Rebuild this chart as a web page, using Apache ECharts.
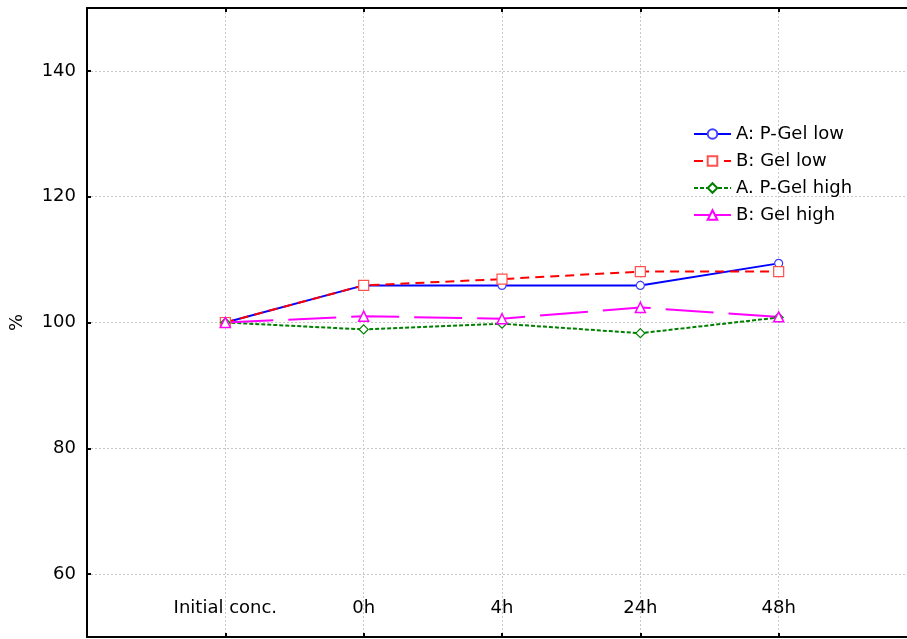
<!DOCTYPE html>
<html>
<head>
<meta charset="utf-8">
<script src="https://cdn.jsdelivr.net/npm/echarts@6/dist/echarts.min.js"></script>
<style>html,body{margin:0;padding:0;background:#fff}#c{width:907px;height:639px}</style>
</head>
<body>
<div id="c"></div>
<script>
var categories = ['Initial conc.', '0h', '4h', '24h', '48h'];
var yTicks = [60, 80, 100, 120, 140];
var seriesNames = ['A: P-Gel low', 'B: Gel low', 'A. P-Gel high', 'B: Gel high'];
var pGelLow = [100, 105.9, 105.9, 105.9, 109.4];
var gelLow = [100, 105.9, 106.9, 108.1, 108.1];
var pGelHigh = [100, 98.9, 99.8, 98.3, 100.8];
var gelHigh = [100, 101.0, 100.6, 102.4, 100.9];

function pts(arr) { return arr.map(function (v, i) { return [i, v]; }); }

var chart = echarts.init(document.getElementById('c'), null, { renderer: 'canvas' });
var font = 'DejaVu Sans, Arial, Helvetica, sans-serif';
var splitLine = { show: true, lineStyle: { color: '#c8c8c8', width: 1, type: [2, 2] } };

chart.setOption({
  animation: false,
  backgroundColor: '#ffffff',
  textStyle: { fontFamily: font },
  grid: { left: 87, top: 8, width: 830, height: 629, outerBoundsMode: 'none', containLabel: false },
  legend: {
    orient: 'vertical', left: 688, top: 120, itemGap: 9,
    itemWidth: 37, itemHeight: 12,
    textStyle: { fontSize: 18, color: '#000', fontFamily: font },
    data: seriesNames
  },
  xAxis: [{
    type: 'value', position: 'bottom', min: -1, max: 5, interval: 1,
    axisLine: { show: true, onZero: false, lineStyle: { color: '#000', width: 2 } },
    axisTick: { show: true, inside: true, length: 4, lineStyle: { color: '#000', width: 2 } },
    axisLabel: { inside: true, margin: 20, fontSize: 18, color: '#000', fontFamily: font,
      formatter: function (v) { return categories[v] !== undefined ? categories[v] : ''; } },
    splitLine: splitLine
  }, {
    type: 'value', position: 'top', min: -1, max: 5, interval: 1,
    axisLine: { show: true, onZero: false, lineStyle: { color: '#000', width: 2 } },
    axisTick: { show: true, inside: true, length: 4, lineStyle: { color: '#000', width: 2 } },
    axisLabel: { show: false },
    splitLine: { show: false }
  }],
  yAxis: [{
    type: 'value', min: 50, max: 150,
    name: '%', nameLocation: 'middle', nameGap: 61, nameRotate: 90,
    nameTextStyle: { fontSize: 18, color: '#000', fontFamily: font },
    axisLine: { show: true, onZero: false, lineStyle: { color: '#000', width: 2 } },
    axisTick: { show: true, inside: true, length: 4, customValues: yTicks, lineStyle: { color: '#000', width: 2 } },
    axisLabel: { margin: 11, fontSize: 18, color: '#000', fontFamily: font, customValues: yTicks },
    splitLine: splitLine
  }],
  series: [{
    name: seriesNames[0], type: 'line', data: pts(pGelLow),
    symbol: 'circle', symbolSize: 8, showAllSymbol: true,
    lineStyle: { color: '#0000ff', width: 2, type: 'solid' },
    itemStyle: { color: '#ffffff', borderColor: '#4040ff', borderWidth: 1.2 },
    color: '#0000ff'
  }, {
    name: seriesNames[1], type: 'line', data: pts(gelLow),
    symbol: 'rect', symbolSize: 10,
    lineStyle: { color: '#ff0000', width: 2, type: [9, 6] },
    itemStyle: { color: '#ffffff', borderColor: '#ff5050', borderWidth: 1.2 },
    color: '#ff0000'
  }, {
    name: seriesNames[2], type: 'line', data: pts(pGelHigh),
    symbol: 'diamond', symbolSize: 9,
    lineStyle: { color: '#008000', width: 2, type: [4, 2] },
    itemStyle: { color: '#ffffff', borderColor: '#008000', borderWidth: 1.2 },
    color: '#008000'
  }, {
    name: seriesNames[3], type: 'line', data: pts(gelHigh),
    symbol: 'triangle', symbolSize: 10,
    lineStyle: { color: '#ff00ff', width: 2, type: [48, 15] },
    itemStyle: { color: '#ffffff', borderColor: '#ff00ff', borderWidth: 1.5 },
    color: '#ff00ff'
  }]
});
</script>
</body>
</html>
